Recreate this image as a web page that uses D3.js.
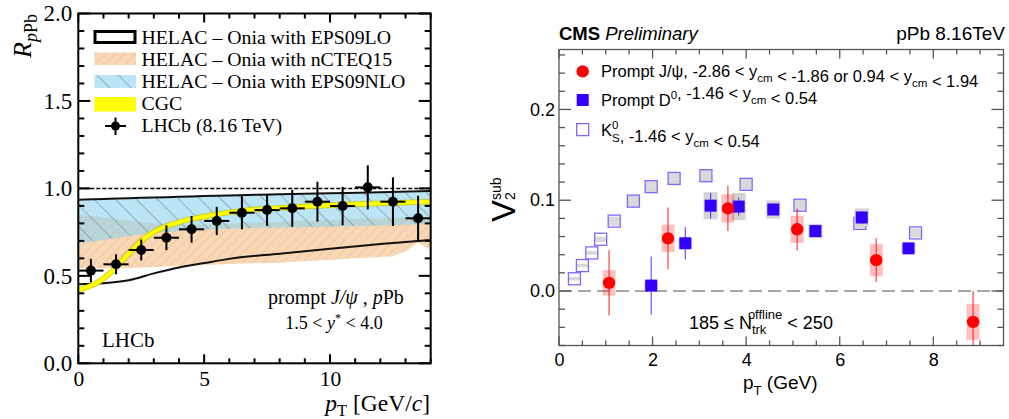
<!DOCTYPE html>
<html><head><meta charset="utf-8">
<script src="https://cdn.jsdelivr.net/npm/d3@7"></script>
<style>body{margin:0;background:#fff}svg{display:block}</style>
</head><body>
<svg id="c" width="1009" height="419"></svg>
<script>
// ---------- LEFT PANEL DATA (LHCb R_pPb) ----------
const lhcbPt   = [0.5, 1.5, 2.5, 3.5, 4.5, 5.5, 6.5, 7.5, 8.5, 9.5, 10.5, 11.5, 12.5, 13.5];
const lhcbPtHW = [0.5, 0.5, 0.5, 0.5, 0.5, 0.5, 0.5, 0.5, 0.5, 0.5, 0.5, 0.5, 0.5, 0.5];
const lhcbR    = [0.530, 0.566, 0.648, 0.718, 0.766, 0.814, 0.861, 0.876, 0.886, 0.924, 0.899, 1.006, 0.924, 0.829];
const lhcbErr  = [0.067, 0.057, 0.060, 0.071, 0.076, 0.081, 0.095, 0.090, 0.105, 0.114, 0.110, 0.126, 0.139, 0.129];

const cgcPt = [0, 0.3, 0.7, 1.0, 1.3, 1.6, 1.9, 2.2, 2.5, 2.9, 3.3, 3.8, 4.3, 5.0, 5.5, 6.2, 6.8, 7.8, 8.8, 10.0, 10.8, 12.0, 13.0, 14.0];
const cgcR  = [0.419, 0.432, 0.457, 0.485, 0.520, 0.565, 0.612, 0.655, 0.700, 0.742, 0.772, 0.798, 0.819, 0.838, 0.852, 0.866, 0.876, 0.886, 0.895, 0.903, 0.909, 0.915, 0.919, 0.924];

const loPt   = [0, 1, 2, 3, 4, 5, 6, 8, 10, 12, 14];
const loHigh = [0.935, 0.940, 0.944, 0.948, 0.952, 0.956, 0.960, 0.966, 0.972, 0.978, 0.985];
const loLow  = [0.452, 0.458, 0.475, 0.514, 0.548, 0.573, 0.597, 0.627, 0.655, 0.682, 0.705];

const nloPt   = [0, 1, 2, 3, 4, 5, 6, 8, 10, 12, 14];
const nloHigh = [0.930, 0.935, 0.940, 0.944, 0.948, 0.952, 0.956, 0.962, 0.968, 0.974, 0.980];
const nloLow  = [0.686, 0.705, 0.728, 0.745, 0.755, 0.763, 0.770, 0.776, 0.781, 0.788, 0.796];

const nctPt   = [0, 1, 2, 3, 4, 5, 6, 7, 8, 9, 10, 11, 12, 12.5, 13.0, 13.5, 14];
const nctHigh = [0.848, 0.835, 0.815, 0.800, 0.795, 0.795, 0.800, 0.805, 0.810, 0.815, 0.820, 0.825, 0.830, 0.832, 0.834, 0.836, 0.838];
const nctLow  = [0.543, 0.543, 0.545, 0.550, 0.556, 0.562, 0.568, 0.572, 0.575, 0.585, 0.591, 0.600, 0.608, 0.612, 0.640, 0.690, 0.648];

// ---------- RIGHT PANEL DATA (CMS v2sub) ----------
const jpsiPt   = [1.07, 2.33, 3.61, 5.09, 6.78, 8.85];
const jpsiV2   = [0.009, 0.058, 0.091, 0.068, 0.034, -0.034];
const jpsiStat = [0.036, 0.034, 0.025, 0.023, 0.024, 0.034];
const jpsiSys  = [0.014, 0.015, 0.0155, 0.015, 0.0177, 0.0197];

const d0Pt   = [1.97, 2.70, 3.24, 3.84, 4.58, 5.48, 6.47, 7.47];
const d0V2   = [0.006, 0.0526, 0.094, 0.093, 0.0898, 0.066, 0.081, 0.047];
const d0Stat = [0.032, 0.018, 0.014, 0.010, 0.006, 0.006, 0.007, 0.005];
const d0Sys  = [0.004, 0.005, 0.015, 0.015, 0.010, 0.008, 0.010, 0.005];

const ksPt  = [0.33, 0.50, 0.70, 0.89, 1.18, 1.59, 1.97, 2.46, 3.14, 4.00, 5.15, 6.43, 7.62];
const ksV2  = [0.0135, 0.028, 0.042, 0.057, 0.077, 0.099, 0.115, 0.124, 0.127, 0.1175, 0.0945, 0.0745, 0.064];
const ksSys = [0.002, 0.002, 0.002, 0.003, 0.005, 0.006, 0.007, 0.007, 0.007, 0.006, 0.006, 0.005, 0.005];

const rightLegend = [
  "Prompt J/ψ, -2.86 < y_cm < -1.86 or 0.94 < y_cm < 1.94",
  "Prompt D⁰, -1.46 < y_cm < 0.54",
  "K⁰S, -1.46 < y_cm < 0.54"
];
const leftLegend = ["HELAC – Onia with EPS09LO", "HELAC – Onia with nCTEQ15", "HELAC – Onia with EPS09NLO", "CGC", "LHCb (8.16 TeV)"];

// ======================================================
const svg = d3.select("#c");
const defs = svg.append("defs");
function hatch(id, bg, col, ang, sp, w) {
  const p = defs.append("pattern").attr("id", id).attr("patternUnits", "userSpaceOnUse")
    .attr("width", sp).attr("height", sp).attr("patternTransform", `rotate(${ang})`);
  if (bg) p.append("rect").attr("width", sp).attr("height", sp).attr("fill", bg);
  p.append("line").attr("x1", 0).attr("y1", 0).attr("x2", 0).attr("y2", sp)
    .attr("stroke", col).attr("stroke-width", w);
}
hatch("hO", "#fad7b5", "#d9b796", 45, 7, 1);
hatch("hB", null, "#6d7f86", -45, 15, 1.1);

const SERIF = "Liberation Serif, Times New Roman, serif";
const SANS = "Liberation Sans, Arial, Helvetica, sans-serif";

// ---------------- LEFT PANEL ----------------
const xL = d3.scaleLinear().domain([0, 14]).range([78.3, 430.7]);
const yL = d3.scaleLinear().domain([0, 2]).range([363.3, 13.5]);
const L = svg.append("g");

const zip = (xs, a, b) => xs.map((x, i) => ({x, lo: a[i], hi: b[i]}));
const bandArea = d3.area().x(d => xL(d.x)).y0(d => yL(d.lo)).y1(d => yL(d.hi)).curve(d3.curveMonotoneX);

// nCTEQ15 band
L.append("path").datum(zip(nctPt, nctLow, nctHigh)).attr("d", d3.area().x(d => xL(d.x)).y0(d => yL(d.lo)).y1(d => yL(d.hi)))
  .attr("fill", "url(#hO)");
// EPS09NLO band
L.append("path").datum(zip(nloPt, nloLow, nloHigh)).attr("d", bandArea)
  .attr("fill", "#8dd3ee").attr("fill-opacity", 0.6);
L.append("path").datum(zip(nloPt, nloLow, nloHigh)).attr("d", bandArea)
  .attr("fill", "url(#hB)");
// EPS09LO outlines
const lineL = d3.line().x(d => xL(d[0])).y(d => yL(d[1])).curve(d3.curveMonotoneX);
L.append("path").attr("d", lineL(loPt.map((x, i) => [x, loHigh[i]]))).attr("fill", "none").attr("stroke", "#111").attr("stroke-width", 2);
L.append("path").attr("d", lineL(loPt.map((x, i) => [x, loLow[i]]))).attr("fill", "none").attr("stroke", "#111").attr("stroke-width", 2);
// CGC
L.append("path").attr("d", lineL(cgcPt.map((x, i) => [x, cgcR[i]]))).attr("fill", "none").attr("stroke", "#c8c800").attr("stroke-width", 5.5);
L.append("path").attr("d", lineL(cgcPt.map((x, i) => [x, cgcR[i]]))).attr("fill", "none").attr("stroke", "#ffff00").attr("stroke-width", 4);
// dashed unity
L.append("line").attr("x1", xL(0)).attr("x2", xL(14)).attr("y1", yL(1)).attr("y2", yL(1))
  .attr("stroke", "#000").attr("stroke-width", 1.5).attr("stroke-dasharray", "4,2");

// LHCb data
const pts = L.append("g");
lhcbPt.forEach((x, i) => {
  pts.append("line").attr("x1", xL(x - lhcbPtHW[i])).attr("x2", xL(x + lhcbPtHW[i])).attr("y1", yL(lhcbR[i])).attr("y2", yL(lhcbR[i])).attr("stroke", "#000").attr("stroke-width", 2);
  pts.append("line").attr("x1", xL(x)).attr("x2", xL(x)).attr("y1", yL(lhcbR[i] - lhcbErr[i])).attr("y2", yL(lhcbR[i] + lhcbErr[i])).attr("stroke", "#000").attr("stroke-width", 2);
  pts.append("circle").attr("cx", xL(x)).attr("cy", yL(lhcbR[i])).attr("r", 5).attr("fill", "#000");
});

// Frame & ticks
function ticksFrame(g, x, y, xmaj, xmin, ymaj, ymin, lenXM, lenXm, lenYM, lenYm, col, sw) {
  const [x0, x1] = x.range(), [y0, y1] = y.range();
  const t = g.append("g").attr("stroke", col).attr("stroke-width", sw);
  xmin.forEach(v => { const L2 = xmaj.includes(v) ? lenXM : lenXm;
    t.append("line").attr("x1", x(v)).attr("x2", x(v)).attr("y1", y0).attr("y2", y0 - L2);
    t.append("line").attr("x1", x(v)).attr("x2", x(v)).attr("y1", y1).attr("y2", y1 + L2); });
  ymin.forEach(v => { const L2 = ymaj.some(m => Math.abs(m - v) < 1e-9) ? lenYM : lenYm;
    t.append("line").attr("y1", y(v)).attr("y2", y(v)).attr("x1", x0).attr("x2", x0 + L2);
    t.append("line").attr("y1", y(v)).attr("y2", y(v)).attr("x1", x1).attr("x2", x1 - L2); });
  g.append("rect").attr("x", x0).attr("y", y1).attr("width", x1 - x0).attr("height", y0 - y1)
    .attr("fill", "none").attr("stroke", col).attr("stroke-width", sw);
}
const lxMaj = [0, 5, 10], lxMin = d3.range(0, 15, 1);
const lyMaj = [0, 0.5, 1, 1.5, 2], lyMin = d3.range(0, 21).map(i => i / 10);
ticksFrame(L, xL, yL, lxMaj, lxMin, lyMaj, lyMin, 9, 5, 12, 6, "#000", 2);

// Axes labels via d3 axes (labels only)
const axBL = L.append("g").attr("transform", `translate(0,${yL(0)})`)
  .call(d3.axisBottom(xL).tickValues(lxMaj).tickFormat(d3.format("d")).tickSize(0).tickPadding(7));
axBL.select(".domain").remove();
axBL.selectAll("text").attr("font-family", SERIF).attr("font-size", 21.5).attr("fill", "#000");
const axLL = L.append("g").attr("transform", `translate(${xL(0)},0)`)
  .call(d3.axisLeft(yL).tickValues(lyMaj).tickFormat(d3.format(".1f")).tickSize(0).tickPadding(6));
axLL.select(".domain").remove();
axLL.selectAll("text").attr("font-family", SERIF).attr("font-size", 23).attr("fill", "#000");

// Axis titles
const xt = L.append("text").attr("x", 430).attr("y", 411).attr("text-anchor", "end").attr("font-family", SERIF).attr("font-size", 23.5);
xt.append("tspan").attr("font-style", "italic").text("p");
xt.append("tspan").attr("font-size", 16.5).attr("dy", 5).text("T");
xt.append("tspan").attr("dy", -5).text(" [GeV/");
xt.append("tspan").attr("font-style", "italic").text("c");
xt.append("tspan").text("]");
const yt = L.append("text").attr("transform", "translate(31,14) rotate(-90)").attr("text-anchor", "end").attr("font-family", SERIF).attr("font-size", 26);
yt.append("tspan").attr("font-style", "italic").text("R");
yt.append("tspan").attr("font-size", 18).attr("dy", 6).attr("font-style", "italic").text("p");
yt.append("tspan").attr("font-size", 18).text("Pb");

// Left legend
const lg = L.append("g").attr("font-family", SERIF).attr("font-size", 19.8);
lg.append("rect").attr("x", 95).attr("y", 31.5).attr("width", 40).attr("height", 11).attr("fill", "#fff").attr("stroke", "#000").attr("stroke-width", 3);
lg.append("rect").attr("x", 94.5).attr("y", 52.5).attr("width", 41.5).attr("height", 12.5).attr("fill", "url(#hO)");
lg.append("rect").attr("x", 94.5).attr("y", 75).attr("width", 41.5).attr("height", 13).attr("fill", "#8dd3ee").attr("fill-opacity", 0.6);
lg.append("rect").attr("x", 94.5).attr("y", 75).attr("width", 41.5).attr("height", 13).attr("fill", "url(#hB)");
lg.append("rect").attr("x", 94.5).attr("y", 97).attr("width", 41.5).attr("height", 14.5).attr("fill", "#ffff00");
lg.append("line").attr("x1", 105).attr("x2", 126).attr("y1", 126).attr("y2", 126).attr("stroke", "#000").attr("stroke-width", 2);
lg.append("line").attr("x1", 115.5).attr("x2", 115.5).attr("y1", 117.5).attr("y2", 135).attr("stroke", "#000").attr("stroke-width", 2);
lg.append("circle").attr("cx", 115.5).attr("cy", 126).attr("r", 4.5).attr("fill", "#000");
[43.5, 65.5, 88, 110, 132].forEach((yb, i) =>
  lg.append("text").attr("x", 141.5).attr("y", yb).text(leftLegend[i]));

// Annotations
const an = L.append("g").attr("font-family", SERIF).attr("font-size", 20);
const a1 = an.append("text").attr("x", 336).attr("y", 303.5).attr("text-anchor", "middle");
a1.append("tspan").text("prompt ");
a1.append("tspan").attr("font-style", "italic").text("J/ψ");
a1.append("tspan").text(" , ");
a1.append("tspan").attr("font-style", "italic").text("p");
a1.append("tspan").text("Pb");
const a2 = an.append("text").attr("x", 334).attr("y", 328.5).attr("text-anchor", "middle").attr("font-size", 18);
a2.append("tspan").text("1.5 < ");
a2.append("tspan").attr("font-style", "italic").text("y");
a2.append("tspan").attr("font-size", 12).attr("dy", -7).text("*");
a2.append("tspan").attr("dy", 7).text(" < 4.0");
an.append("text").attr("x", 102).attr("y", 346.5).attr("font-size", 21).text("LHCb");

// ---------------- RIGHT PANEL ----------------
const xR = d3.scaleLinear().domain([0, 9.5]).range([559, 1003.5]);
const yR = d3.scaleLinear().domain([-0.06, 0.266]).range([345.5, 49.5]);
const R = svg.append("g");
const BLUE = "#3300ff", RED = "#ff0000", PURP = "#7f66ff";

// zero line
R.append("line").attr("x1", xR(0)).attr("x2", xR(9.5)).attr("y1", yR(0)).attr("y2", yR(0))
  .attr("stroke", "#8a8a8a").attr("stroke-width", 1.6).attr("stroke-dasharray", "13,6");

// KS0 (open squares with gray sys boxes)
ksPt.forEach((x, i) => {
  R.append("rect").attr("x", xR(x) - 5.5).attr("y", yR(ksV2[i] + ksSys[i])).attr("width", 11)
    .attr("height", yR(ksV2[i] - ksSys[i]) - yR(ksV2[i] + ksSys[i])).attr("fill", "#d9d9d9");
  R.append("rect").attr("x", xR(x) - 6).attr("y", yR(ksV2[i]) - 6).attr("width", 12).attr("height", 12)
    .attr("fill", "none").attr("stroke", PURP).attr("stroke-width", 1.3);
});
// D0
d0Pt.forEach((x, i) => {
  R.append("rect").attr("x", xR(x) - 7).attr("y", yR(d0V2[i] + d0Sys[i])).attr("width", 14)
    .attr("height", yR(d0V2[i] - d0Sys[i]) - yR(d0V2[i] + d0Sys[i])).attr("fill", "#d4d4d4");
  R.append("line").attr("x1", xR(x)).attr("x2", xR(x)).attr("y1", yR(d0V2[i] - d0Stat[i])).attr("y2", yR(d0V2[i] + d0Stat[i]))
    .attr("stroke", BLUE).attr("stroke-opacity", 0.7).attr("stroke-width", 1.2);
  R.append("rect").attr("x", xR(x) - 6).attr("y", yR(d0V2[i]) - 6).attr("width", 12).attr("height", 12).attr("fill", BLUE);
});
// J/psi
jpsiPt.forEach((x, i) => {
  R.append("rect").attr("x", xR(x) - 6.5).attr("y", yR(jpsiV2[i] + jpsiSys[i])).attr("width", 13)
    .attr("height", yR(jpsiV2[i] - jpsiSys[i]) - yR(jpsiV2[i] + jpsiSys[i])).attr("fill", "#ff0000").attr("fill-opacity", 0.25);
  const lo = Math.max(jpsiV2[i] - jpsiStat[i], -0.06);
  R.append("line").attr("x1", xR(x)).attr("x2", xR(x)).attr("y1", yR(lo)).attr("y2", yR(jpsiV2[i] + jpsiStat[i]))
    .attr("stroke", RED).attr("stroke-opacity", 0.75).attr("stroke-width", 1.2);
  R.append("circle").attr("cx", xR(x)).attr("cy", yR(jpsiV2[i])).attr("r", 6.2).attr("fill", RED);
});

const rxMaj = [0, 2, 4, 6, 8], rxMin = d3.range(0, 19).map(i => i / 2);
const ryMaj = [0, 0.1, 0.2], ryMin = d3.range(-3, 14).map(i => +(i * 0.02).toFixed(2));
ticksFrame(R, xR, yR, rxMaj, rxMin, ryMaj, ryMin, 9, 5, 12, 6, "#555", 1.3);

const axBR = R.append("g").attr("transform", `translate(0,${yR(-0.06)})`)
  .call(d3.axisBottom(xR).tickValues(rxMaj).tickFormat(d3.format("d")).tickSize(0).tickPadding(8));
axBR.select(".domain").remove();
axBR.selectAll("text").attr("font-family", SANS).attr("font-size", 18).attr("fill", "#000");
const axLR = R.append("g").attr("transform", `translate(${xR(0)},0)`)
  .call(d3.axisLeft(yR).tickValues(ryMaj).tickFormat(d3.format(".1f")).tickSize(0).tickPadding(4));
axLR.select(".domain").remove();
axLR.selectAll("text").attr("font-family", SANS).attr("font-size", 18).attr("fill", "#000");

// titles
const xtr = R.append("text").attr("x", 743).attr("y", 389).attr("font-family", SANS).attr("font-size", 19);
xtr.append("tspan").text("p");
xtr.append("tspan").attr("font-size", 13).attr("dy", 6).text("T");
xtr.append("tspan").attr("dy", -6).text(" (GeV)");
const ytr = R.append("g").attr("transform", "translate(515,222) rotate(-90)").attr("font-family", SANS);
ytr.append("text").attr("x", 0).attr("y", 0).attr("font-size", 33).text("V");
ytr.append("text").attr("x", 22).attr("y", 0).attr("font-size", 14).text("2");
ytr.append("text").attr("x", 22).attr("y", -14).attr("font-size", 14).text("sub");

// header
const hd = R.append("text").attr("x", 559).attr("y", 40).attr("font-family", SANS).attr("font-size", 18.5);
hd.append("tspan").attr("font-weight", "bold").text("CMS");
hd.append("tspan").attr("font-style", "italic").text(" Preliminary");
R.append("text").attr("x", 1005).attr("y", 40).attr("text-anchor", "end").attr("font-family", SANS).attr("font-size", 19).text("pPb 8.16TeV");

// legend
const rl = R.append("g").attr("font-family", SANS).attr("font-size", 16.5);
rl.append("circle").attr("cx", 582.7).attr("cy", 71.4).attr("r", 6.2).attr("fill", RED);
rl.append("rect").attr("x", 576.7).attr("y", 94).attr("width", 12).attr("height", 12).attr("fill", BLUE);
rl.append("rect").attr("x", 576.7).attr("y", 123.6).attr("width", 12).attr("height", 12).attr("fill", "none").attr("stroke", PURP).attr("stroke-width", 1.3);
function richText(g, x, y, str) {
  const t = g.append("text").attr("x", x).attr("y", y);
  const parts = str.split(/(_cm|⁰S|⁰)/);
  parts.forEach(p => {
    if (p === "_cm") { t.append("tspan").attr("font-size", 11.5).attr("dy", 5).text("cm"); t.append("tspan").attr("dy", -5).text(""); }
    else if (p === "⁰") { t.append("tspan").attr("font-size", 11.5).attr("dy", -7).text("0"); t.append("tspan").attr("dy", 7).text(""); }
    else if (p === "⁰S") { t.append("tspan").attr("font-size", 11.5).attr("dy", -7).text("0");
      t.append("tspan").attr("font-size", 11.5).attr("dx", -6.4).attr("dy", 13).text("S"); t.append("tspan").attr("dy", -6).text(""); }
    else if (p.length) t.append("tspan").text(p);
  });
}
richText(rl, 601, 77, rightLegend[0]);
richText(rl, 601, 106, rightLegend[1]);
richText(rl, 601, 135.5, rightLegend[2]);

// N_trk text
const nt = R.append("text").attr("x", 689).attr("y", 328.5).attr("font-family", SANS).attr("font-size", 18);
nt.append("tspan").text("185 ≤ N");
nt.append("tspan").attr("font-size", 13).attr("dy", 5).text("trk");
nt.append("tspan").attr("font-size", 13).attr("dx", -18.5).attr("dy", -15).text("offline");
nt.append("tspan").attr("dy", 10).text(" < 250");
</script>
</body></html>
